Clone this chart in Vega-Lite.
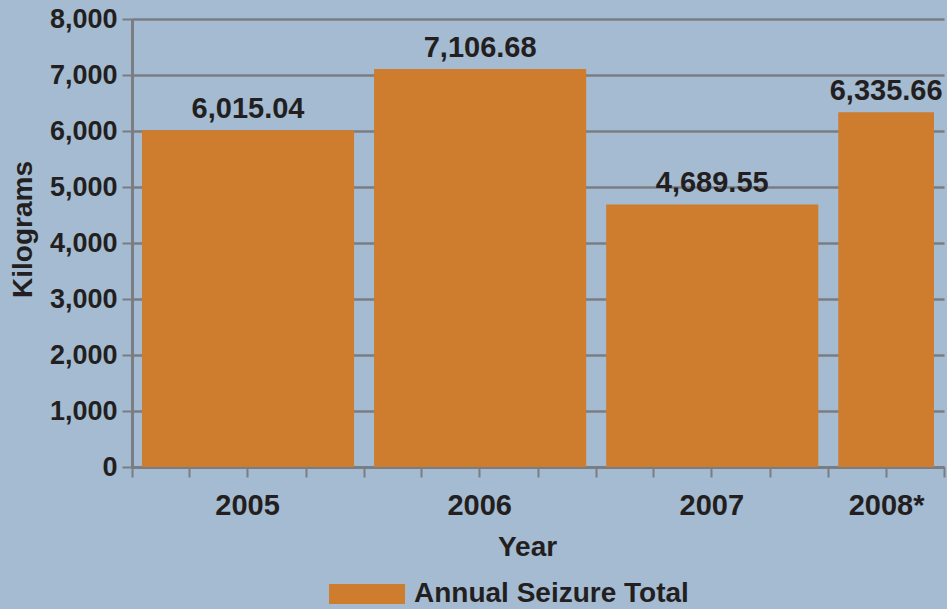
{
  "$schema": "https://vega.github.io/schema/vega-lite/v6.json",
  "autosize": {"type": "none"},
  "width": 812,
  "height": 448,
  "padding": {"left": 132, "top": 19, "right": 3, "bottom": 142},
  "background": "#a4bbd2",
  "config": {
    "view": {"stroke": null},
    "font": "Liberation Sans",
    "text": {"font": "Liberation Sans"}
  },
  "data": {
    "values": [
      {"year": "2005", "start": "2005-01-01", "end": "2006-01-01", "kg": 6015.04},
      {"year": "2006", "start": "2006-01-01", "end": "2007-01-01", "kg": 7106.68},
      {"year": "2007", "start": "2007-01-01", "end": "2008-01-01", "kg": 4689.55},
      {"year": "2008*", "start": "2008-01-01", "end": "2008-07-01", "kg": 6335.66}
    ]
  },
  "encoding": {
    "x": {
      "field": "start",
      "type": "temporal",
      "scale": {
        "type": "utc",
        "domain": [
          {"year": 2005, "month": 1, "date": 1, "utc": true},
          {"year": 2008, "month": 7, "date": 1, "utc": true}
        ],
        "nice": false
      },
      "axis": {
        "title": "Year",
        "tickCount": {"interval": "month", "step": 3},
        "labelExpr": "(utcmonth(datum.value) == 6 && utcyear(datum.value) < 2008) ? ('' + utcyear(datum.value)) : ((utcyear(datum.value) == 2008 && utcmonth(datum.value) == 3) ? '2008*' : '')",
        "labelOverlap": false,
        "labelFlush": false,
        "labelBaseline": "alphabetic",
        "labelPadding": 37,
        "labelFont": "Liberation Sans",
        "labelFontWeight": "bold",
        "labelFontSize": 29,
        "labelColor": "#231f20",
        "tickSize": 10,
        "tickWidth": 2,
        "tickColor": "#7a7d82",
        "domainColor": "#7a7d82",
        "domainWidth": 3,
        "grid": false,
        "titleFont": "Liberation Sans",
        "titleFontWeight": "bold",
        "titleFontSize": 28,
        "titleColor": "#231f20",
        "titleBaseline": "alphabetic",
        "titleAlign": "center",
        "titleAnchor": null,
        "titleX": 395,
        "titleY": 88
      }
    },
    "y": {
      "field": "kg",
      "type": "quantitative",
      "scale": {"domain": [0, 8000], "nice": false},
      "axis": {
        "title": "Kilograms",
        "values": [0, 1000, 2000, 3000, 4000, 5000, 6000, 7000, 8000],
        "format": ",d",
        "labelFont": "Liberation Sans",
        "labelFontWeight": "bold",
        "labelFontSize": 27,
        "labelColor": "#231f20",
        "labelPadding": 5,
        "tickSize": 10,
        "tickWidth": 2,
        "tickColor": "#7a7d82",
        "domainColor": "#7a7d82",
        "domainWidth": 3,
        "grid": true,
        "gridColor": "#7a7d82",
        "gridWidth": 2.5,
        "titleFont": "Liberation Sans",
        "titleFontWeight": "bold",
        "titleFontSize": 28,
        "titleColor": "#231f20",
        "titleBaseline": "alphabetic",
        "titleAlign": "center",
        "titleAngle": -90,
        "titleAnchor": null,
        "titleX": -101,
        "titleY": 210
      }
    }
  },
  "layer": [
    {
      "mark": {"type": "bar", "xOffset": 10, "x2Offset": -10},
      "encoding": {
        "x2": {"field": "end"},
        "y2": {"datum": 0},
        "color": {
          "datum": "Annual Seizure Total",
          "type": "nominal",
          "scale": {"range": ["#ce7c2e"]},
          "legend": {
            "title": null,
            "orient": "none",
            "legendX": 197,
            "legendY": 537,
            "padding": 0,
            "symbolType": "M-1,-0.263L1,-0.263L1,0.263L-1,0.263Z",
            "symbolSize": 5776,
            "symbolStrokeWidth": 0,
            "symbolFillColor": "#ce7c2e",
            "symbolOpacity": 1,
            "labelOffset": 9,
            "labelFont": "Liberation Sans",
            "labelFontWeight": "bold",
            "labelFontSize": 28,
            "labelColor": "#231f20",
            "labelLimit": 500
          }
        }
      }
    },
    {
      "transform": [
        {"calculate": "(time(datum.start) + time(datum.end)) / 2", "as": "mid"}
      ],
      "mark": {
        "type": "text",
        "baseline": "alphabetic",
        "dy": -12,
        "font": "Liberation Sans",
        "fontWeight": "bold",
        "fontSize": 29,
        "color": "#231f20"
      },
      "encoding": {
        "x": {"field": "mid", "type": "temporal"},
        "text": {"field": "kg", "type": "quantitative", "format": ",.2f"}
      }
    }
  ]
}
